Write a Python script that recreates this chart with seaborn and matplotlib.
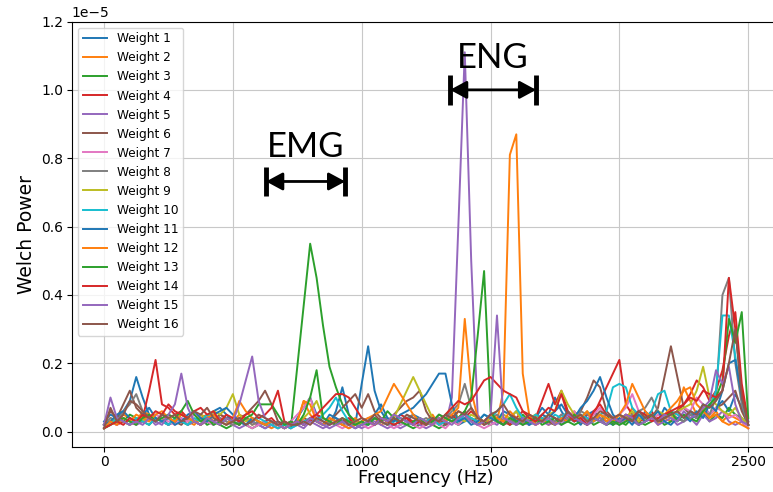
import numpy as np
import pandas as pd
import seaborn as sns
import matplotlib
matplotlib.use('Agg')
import matplotlib.pyplot as plt

# Welch power per weight, in units of 1e-7, 25 Hz bins from 0 to 2500 Hz
freqs = np.linspace(0, 2500, 101)
scale = 1e-7

weight_1 = [3, 5, 4, 6, 9, 16, 10, 5, 3, 4,
            2, 3, 5, 4, 3, 2, 4, 6, 7, 5,
            3, 2, 4, 3, 2, 1, 2, 3, 2, 1,
            4, 7, 10, 5, 3, 2, 6, 13, 5, 2,
            14, 25, 12, 6, 3, 4, 2, 3, 5, 4,
            3, 2, 4, 3, 5, 2, 3, 4, 2, 3,
            5, 3, 2, 4, 6, 3, 2, 4, 7, 5,
            10, 6, 3, 4, 2, 5, 6, 4, 3, 2,
            4, 3, 5, 2, 6, 4, 3, 7, 5, 4,
            3, 6, 4, 8, 5, 7, 9, 6, 11, 7,
            2]
weight_2 = [2, 4, 3, 5, 4, 3, 6, 5, 4, 3,
            5, 4, 6, 3, 2, 4, 5, 3, 2, 4,
            3, 5, 4, 2, 3, 2, 1, 2, 3, 2,
            3, 9, 5, 3, 2, 4, 3, 2, 3, 4,
            2, 3, 4, 2, 3, 5, 4, 3, 2, 4,
            3, 5, 2, 4, 3, 6, 5, 4, 3, 2,
            4, 3, 12, 81, 87, 17, 5, 3, 4, 2,
            3, 5, 4, 6, 3, 2, 4, 5, 3, 4,
            5, 3, 7, 4, 3, 5, 2, 4, 3, 6,
            13, 9, 5, 7, 4, 6, 3, 5, 4, 3,
            1]
weight_3 = [2, 3, 4, 3, 5, 4, 3, 2, 4, 3,
            2, 4, 3, 2, 3, 4, 2, 3, 2, 1,
            2, 3, 2, 1, 2, 3, 2, 1, 2, 1,
            19, 37, 55, 45, 31, 19, 13, 8, 5, 3,
            2, 3, 2, 4, 3, 2, 3, 2, 1, 2,
            3, 2, 1, 2, 3, 2, 4, 3, 2, 3,
            2, 3, 4, 2, 3, 5, 3, 2, 4, 3,
            2, 4, 3, 2, 3, 4, 2, 3, 5, 2,
            3, 2, 4, 3, 2, 3, 4, 2, 3, 4,
            3, 5, 4, 6, 3, 5, 4, 7, 5, 4,
            2]
weight_4 = [2, 3, 2, 3, 2, 3, 4, 12, 21, 8,
            7, 5, 6, 4, 3, 5, 4, 3, 5, 4,
            3, 2, 4, 3, 2, 3, 4, 2, 2, 3,
            2, 4, 3, 5, 4, 3, 2, 3, 4, 2,
            3, 2, 4, 3, 2, 3, 5, 4, 3, 2,
            3, 4, 2, 3, 5, 3, 4, 6, 4, 3,
            5, 4, 3, 2, 4, 6, 5, 4, 9, 14,
            8, 12, 6, 4, 3, 5, 5, 9, 13, 17,
            21, 8, 5, 3, 4, 6, 3, 4, 5, 6,
            8, 11, 15, 13, 9, 12, 18, 28, 35, 14,
            3]
weight_5 = [2, 3, 2, 4, 3, 2, 3, 4, 2, 3,
            2, 3, 4, 2, 3, 2, 3, 2, 4, 3,
            2, 1, 2, 3, 2, 1, 2, 1, 2, 1,
            2, 1, 3, 2, 1, 2, 3, 2, 1, 2,
            1, 2, 3, 2, 1, 2, 1, 2, 3, 2,
            1, 2, 3, 2, 10, 60, 111, 50, 5, 2,
            3, 2, 4, 3, 2, 3, 2, 4, 3, 2,
            3, 2, 4, 3, 5, 2, 3, 4, 2, 3,
            2, 4, 3, 2, 3, 4, 2, 3, 4, 2,
            3, 4, 2, 5, 3, 4, 6, 3, 2, 3,
            1]
weight_6 = [2, 6, 4, 8, 12, 7, 5, 4, 3, 5,
            4, 3, 2, 4, 3, 2, 4, 3, 5, 4,
            3, 4, 5, 7, 9, 12, 8, 3, 2, 2,
            3, 2, 4, 3, 2, 3, 5, 7, 9, 11,
            7, 11, 6, 4, 3, 5, 7, 9, 10, 12,
            6, 3, 4, 2, 3, 4, 6, 3, 4, 2,
            3, 4, 2, 3, 4, 2, 3, 5, 4, 3,
            2, 4, 3, 5, 6, 10, 15, 13, 6, 4,
            3, 5, 4, 3, 5, 4, 7, 16, 25, 16,
            7, 5, 4, 6, 5, 7, 8, 10, 12, 6,
            2]
weight_7 = [1, 3, 2, 4, 3, 2, 4, 3, 5, 4,
            3, 2, 4, 3, 5, 4, 3, 2, 4, 3,
            2, 3, 2, 1, 2, 3, 2, 1, 2, 3,
            5, 7, 10, 4, 2, 3, 2, 1, 2, 3,
            2, 1, 2, 3, 2, 1, 2, 3, 2, 1,
            2, 3, 2, 1, 3, 2, 4, 3, 2, 1,
            2, 3, 4, 3, 2, 4, 3, 2, 3, 4,
            3, 5, 4, 6, 3, 4, 5, 7, 4, 3,
            5, 7, 11, 6, 4, 3, 5, 4, 6, 5,
            7, 6, 10, 8, 5, 7, 6, 4, 5, 3,
            1]
weight_8 = [2, 4, 3, 6, 8, 11, 6, 4, 3, 5,
            4, 3, 5, 4, 3, 4, 3, 5, 4, 3,
            2, 3, 4, 2, 3, 2, 3, 2, 1, 2,
            3, 2, 4, 3, 2, 3, 4, 2, 3, 2,
            3, 4, 2, 3, 4, 2, 3, 4, 5, 3,
            4, 3, 5, 4, 6, 8, 14, 7, 4, 3,
            4, 5, 3, 4, 2, 3, 4, 3, 5, 4,
            3, 5, 4, 3, 6, 5, 4, 3, 5, 4,
            3, 4, 5, 6, 7, 10, 6, 4, 5, 4,
            3, 5, 4, 6, 5, 10, 40, 45, 20, 8,
            2]
weight_9 = [2, 3, 4, 3, 2, 4, 3, 5, 4, 3,
            4, 3, 5, 4, 3, 5, 4, 6, 5, 7,
            11, 5, 3, 4, 3, 2, 3, 2, 1, 2,
            3, 4, 6, 9, 4, 3, 2, 3, 2, 3,
            2, 3, 2, 4, 3, 4, 8, 12, 16, 12,
            8, 4, 3, 5, 7, 4, 3, 5, 4, 3,
            4, 3, 5, 4, 6, 3, 4, 5, 3, 5,
            6, 12, 8, 5, 4, 6, 3, 5, 4, 3,
            5, 4, 6, 3, 5, 4, 6, 5, 4, 6,
            7, 8, 12, 19, 10, 8, 6, 5, 7, 4,
            2]
weight_10 = [1, 2, 4, 3, 2, 4, 3, 2, 4, 3,
             2, 4, 3, 2, 4, 3, 5, 4, 3, 2,
             4, 3, 2, 3, 4, 3, 2, 1, 2, 1,
             2, 3, 4, 3, 5, 7, 10, 6, 3, 2,
             3, 2, 4, 3, 2, 3, 4, 3, 2, 4,
             3, 4, 2, 3, 4, 3, 5, 4, 3, 5,
             4, 6, 8, 11, 7, 4, 3, 5, 4, 3,
             5, 4, 6, 3, 5, 4, 3, 5, 6, 13,
             14, 13, 7, 5, 4, 6, 11, 12, 6, 5,
             4, 6, 5, 8, 7, 12, 34, 34, 22, 10,
             2]
weight_11 = [2, 3, 5, 6, 4, 3, 5, 7, 4, 3,
             4, 2, 3, 5, 6, 4, 3, 5, 6, 7,
             5, 3, 2, 4, 3, 2, 3, 2, 1, 2,
             3, 2, 4, 3, 2, 5, 4, 3, 2, 1,
             2, 3, 5, 8, 4, 3, 5, 6, 7, 9,
             11, 14, 17, 17, 8, 3, 4, 2, 3, 5,
             4, 3, 6, 5, 3, 4, 2, 3, 5, 4,
             6, 8, 5, 4, 7, 9, 12, 16, 10, 5,
             3, 4, 2, 5, 3, 4, 6, 3, 2, 4,
             5, 3, 6, 4, 8, 6, 12, 20, 21, 10,
             3]
weight_12 = [1, 3, 2, 4, 3, 5, 4, 3, 5, 6,
             4, 3, 5, 4, 3, 2, 4, 5, 3, 2,
             4, 9, 6, 4, 3, 2, 3, 2, 1, 2,
             3, 9, 8, 3, 2, 4, 3, 2, 1, 2,
             3, 4, 5, 6, 10, 14, 11, 8, 5, 3,
             3, 2, 4, 3, 5, 7, 33, 12, 4, 3,
             5, 4, 3, 6, 4, 3, 5, 2, 3, 4,
             2, 4, 3, 5, 4, 6, 3, 5, 4, 3,
             5, 8, 14, 10, 6, 4, 3, 5, 7, 9,
             12, 13, 8, 6, 4, 5, 3, 2, 3, 2,
             1]
weight_13 = [1, 2, 3, 4, 3, 2, 4, 5, 3, 4,
             5, 4, 6, 9, 5, 3, 4, 2, 3, 4,
             3, 2, 4, 5, 8, 8, 8, 5, 2, 3,
             2, 5, 10, 18, 4, 3, 2, 4, 3, 2,
             3, 2, 4, 3, 6, 4, 3, 2, 3, 4,
             2, 3, 5, 4, 3, 4, 6, 10, 28, 47,
             6, 3, 2, 4, 3, 2, 3, 4, 2, 3,
             4, 2, 3, 5, 3, 2, 4, 3, 2, 3,
             2, 3, 4, 2, 3, 5, 3, 4, 6, 3,
             5, 4, 3, 6, 8, 10, 15, 33, 26, 35,
             4]
weight_14 = [1, 2, 3, 2, 4, 3, 5, 4, 6, 5,
             8, 6, 5, 4, 6, 7, 5, 6, 3, 5,
             4, 3, 5, 6, 4, 5, 7, 12, 3, 2,
             3, 2, 4, 5, 7, 9, 11, 11, 10, 7,
             4, 3, 2, 4, 3, 2, 3, 4, 2, 3,
             2, 4, 3, 5, 7, 9, 8, 9, 12, 15,
             16, 14, 12, 11, 10, 6, 4, 3, 5, 7,
             6, 11, 5, 3, 4, 2, 6, 8, 5, 4,
             3, 5, 4, 6, 5, 3, 4, 5, 6, 7,
             8, 10, 9, 12, 11, 10, 12, 45, 30, 12,
             2]
weight_15 = [2, 10, 4, 3, 2, 3, 2, 4, 3, 2,
             5, 8, 17, 7, 3, 2, 4, 3, 2, 4,
             3, 8, 15, 22, 9, 4, 3, 2, 1, 2,
             3, 2, 4, 3, 2, 1, 2, 3, 2, 1,
             2, 3, 2, 4, 3, 5, 4, 3, 2, 4,
             3, 2, 4, 3, 2, 4, 5, 3, 2, 3,
             5, 34, 4, 3, 2, 4, 3, 2, 3, 4,
             2, 3, 5, 4, 3, 2, 4, 3, 2, 4,
             3, 5, 4, 2, 3, 4, 3, 5, 4, 3,
             6, 4, 5, 7, 9, 18, 14, 19, 8, 3,
             2]
weight_16 = [1, 7, 3, 5, 9, 8, 6, 4, 3, 5,
             4, 5, 3, 4, 6, 5, 7, 4, 3, 2,
             3, 4, 2, 3, 5, 4, 3, 2, 3, 2,
             2, 3, 2, 4, 3, 2, 3, 4, 2, 3,
             4, 3, 5, 3, 2, 4, 3, 5, 4, 3,
             2, 4, 3, 5, 4, 6, 5, 7, 4, 3,
             5, 6, 8, 5, 4, 3, 5, 4, 3, 5,
             4, 3, 6, 4, 5, 3, 4, 6, 5, 4,
             5, 4, 3, 6, 4, 5, 3, 4, 5, 6,
             4, 6, 5, 8, 7, 9, 12, 20, 30, 10,
             2]

series = [weight_1, weight_2, weight_3, weight_4, weight_5, weight_6, weight_7, weight_8,
          weight_9, weight_10, weight_11, weight_12, weight_13, weight_14, weight_15, weight_16]
names = [f'Weight {i}' for i in range(1, 17)]

frames = [pd.DataFrame({'freq': freqs, 'power': np.array(vals) * scale, 'weight': name})
          for name, vals in zip(names, series)]
df = pd.concat(frames, ignore_index=True)

tab10 = sns.color_palette('tab10')
palette = [tab10[i % 10] for i in range(16)]

fig = plt.figure(figsize=(7.73, 4.92), dpi=100)
ax = fig.add_axes([0.0929, 0.0913, 0.9167, 0.865])

sns.lineplot(data=df, x='freq', y='power', hue='weight', hue_order=names,
             palette=palette, errorbar=None, linewidth=1.4, ax=ax)
ax.set_ylim(top=1.2e-5)
ax.grid(True, color='#c8c8c8')
ax.tick_params(labelsize=10, pad=2.5)
ax.set_xlabel('Frequency (Hz)', fontsize=13, labelpad=0)
ax.set_ylabel('Welch Power', fontsize=13.5)
ax.yaxis.get_offset_text().set_fontsize(10)
sns.move_legend(ax, 'upper left', title=None, fontsize=8.7, frameon=True)

# band annotations (EMG / ENG)
bands = {'EMG': (629, 936, 0.732e-5, 0.803e-5), 'ENG': (1343, 1677, 1.0e-5, 1.063e-5)}
bar_half = 0.043e-5
for label, (f1, f2, y_arrow, y_text) in bands.items():
    ax.annotate('', xy=(f2, y_arrow), xytext=(f1, y_arrow),
                arrowprops=dict(arrowstyle='<|-|>,head_length=0.5,head_width=0.27',
                                color='black', lw=2, mutation_scale=20, shrinkA=0, shrinkB=0))
    ax.vlines([f1, f2], y_arrow - bar_half, y_arrow + bar_half, colors='black', lw=3.5)
    ax.text((f1 + f2) / 2, y_text, label, ha='center', va='baseline',
            fontsize=25, family=['Lato', 'DejaVu Sans'], color='black')

fig.savefig('out.png', dpi=100)
